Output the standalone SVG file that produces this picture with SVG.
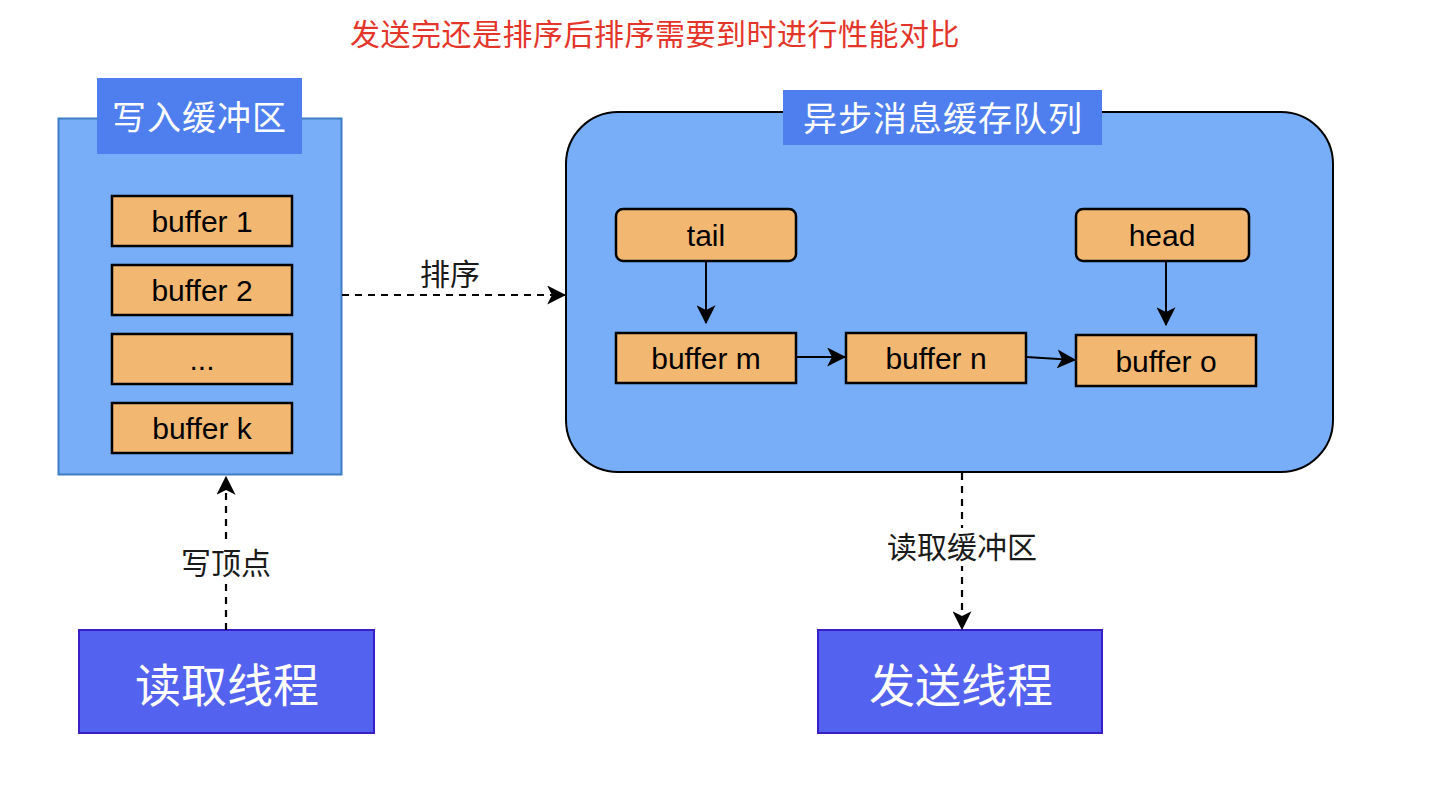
<svg xmlns="http://www.w3.org/2000/svg" width="1454" height="798" viewBox="0 0 1454 798">
<style>
.cn{font-family:"Noto Sans CJK SC","Liberation Sans",sans-serif;text-anchor:middle}
.en{font-family:"Liberation Sans",Arial,sans-serif;font-size:30px;fill:#000;text-anchor:middle}
.buf{fill:#F2B872;stroke:#000;stroke-width:2.5}
.title{fill:#4F7FEF}
.thread{fill:#5462F0;stroke:#3A1EC6;stroke-width:2}
.solid{stroke:#000;stroke-width:2;fill:none}
.dash{stroke:#000;stroke-width:2.2;fill:none;stroke-dasharray:7 6}
.lbl{font-size:30px;fill:#1a1a1a}
.wt{fill:#fff}
</style>
<defs>
<marker id="arr" markerUnits="userSpaceOnUse" viewBox="0 0 16 16" markerWidth="19" markerHeight="19" refX="15" refY="8" orient="auto">
<path d="M0,0 L16,8 L0,16 L4,8 Z" fill="#000"/>
</marker>
</defs>
<rect width="1454" height="798" fill="#fff"/>

<text class="cn" x="655" y="45" font-size="30" letter-spacing="0.5" fill="#E4352A">发送完还是排序后排序需要到时进行性能对比</text>

<g id="write-buffer">
<rect x="58.5" y="118.5" width="283" height="356" fill="#77AEF7" stroke="#3F7DC4" stroke-width="2"/>
<rect class="title" x="97" y="78" width="205" height="76"/>
<text class="cn wt" x="199.5" y="130" font-size="34" letter-spacing="1">写入缓冲区</text>
</g>
<g id="buffer-1"><rect class="buf" x="112" y="196" width="180" height="50"/><text class="en" x="202" y="232">buffer 1</text></g>
<g id="buffer-2"><rect class="buf" x="112" y="265" width="180" height="50"/><text class="en" x="202" y="301">buffer 2</text></g>
<g id="buffer-dots"><rect class="buf" x="112" y="334" width="180" height="50"/><text class="en" x="202" y="370">...</text></g>
<g id="buffer-k"><rect class="buf" x="112" y="403" width="180" height="50"/><text class="en" x="202" y="439">buffer k</text></g>

<g id="async-queue">
<rect x="566" y="112" width="767" height="360" rx="52" ry="52" fill="#77AEF7" stroke="#000" stroke-width="2"/>
<rect class="title" x="783" y="90" width="319" height="55"/>
<text class="cn wt" x="943" y="131" font-size="34" letter-spacing="1">异步消息缓存队列</text>
</g>
<g id="tail"><rect class="buf" x="616" y="209" width="180" height="52" rx="7"/><text class="en" x="706" y="246">tail</text></g>
<g id="head"><rect class="buf" x="1076" y="209" width="173" height="52" rx="7"/><text class="en" x="1162" y="246">head</text></g>
<g id="buffer-m"><rect class="buf" x="616" y="333" width="180" height="50"/><text class="en" x="706" y="369">buffer m</text></g>
<g id="buffer-n"><rect class="buf" x="846" y="333" width="180" height="50"/><text class="en" x="936" y="369">buffer n</text></g>
<g id="buffer-o"><rect class="buf" x="1076" y="335" width="180" height="51"/><text class="en" x="1166" y="372">buffer o</text></g>

<g id="read-thread"><rect class="thread" x="79" y="630" width="295" height="103"/><text class="cn wt" x="227" y="702" font-size="46">读取线程</text></g>
<g id="send-thread"><rect class="thread" x="818" y="630" width="284" height="103"/><text class="cn wt" x="961" y="702" font-size="46">发送线程</text></g>

<g id="connectors">
<line class="solid" x1="706" y1="261" x2="706" y2="323" marker-end="url(#arr)"/>
<line class="solid" x1="1166" y1="261" x2="1166" y2="325" marker-end="url(#arr)"/>
<line class="solid" x1="796" y1="357" x2="845" y2="357" marker-end="url(#arr)"/>
<line class="solid" x1="1026" y1="357" x2="1075" y2="360" marker-end="url(#arr)"/>
<line class="dash" x1="342" y1="295" x2="565" y2="295" marker-end="url(#arr)"/>
<text class="cn lbl" x="450" y="285">排序</text>
<line class="dash" x1="226" y1="630" x2="226" y2="477" marker-end="url(#arr)"/>
<rect x="176" y="544" width="100" height="38" fill="#fff"/>
<text class="cn lbl" x="226" y="574">写顶点</text>
<line class="dash" x1="962" y1="473" x2="962" y2="629" marker-end="url(#arr)"/>
<rect x="880" y="528" width="164" height="38" fill="#fff"/>
<text class="cn lbl" x="962" y="558">读取缓冲区</text>
</g>
</svg>
